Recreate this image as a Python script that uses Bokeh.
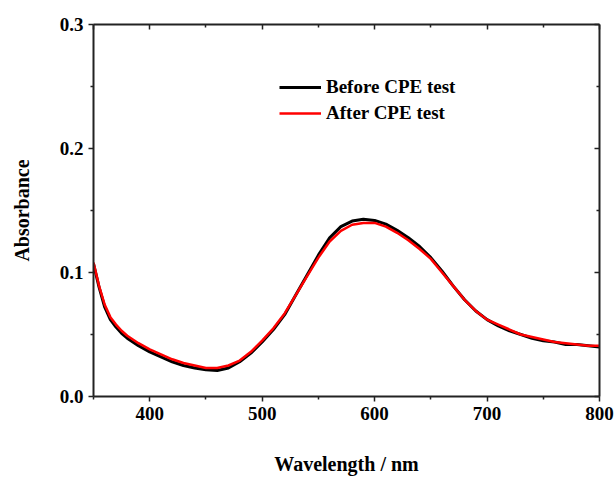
from bokeh.plotting import figure
from bokeh.models import Legend, LegendItem, LinearAxis, FixedTicker, Range1d, NumeralTickFormatter
from bokeh.embed import file_html
from bokeh.resources import INLINE

wavelength = [350, 355, 360, 365, 370, 375, 380, 390, 400, 410, 420, 430, 440, 450, 460,
              470, 480, 490, 500, 510, 520, 530, 540, 550, 560, 570, 580, 590, 600, 610,
              620, 630, 640, 650, 660, 670, 680, 690, 700, 710, 720, 730, 740, 750, 760,
              770, 780, 790, 800]
before_cpe = [0.107, 0.088, 0.072, 0.062, 0.056, 0.051, 0.047, 0.041, 0.036, 0.032, 0.028,
              0.025, 0.023, 0.0215, 0.021, 0.023, 0.028, 0.035, 0.044, 0.054, 0.066, 0.082,
              0.098, 0.114, 0.128, 0.137, 0.1415, 0.143, 0.142, 0.139, 0.134, 0.128, 0.121,
              0.112, 0.101, 0.089, 0.078, 0.069, 0.062, 0.057, 0.053, 0.050, 0.047, 0.045,
              0.044, 0.042, 0.042, 0.041, 0.040]
after_cpe = [0.108, 0.089, 0.074, 0.064, 0.058, 0.053, 0.049, 0.043, 0.038, 0.034, 0.030,
             0.027, 0.025, 0.023, 0.023, 0.025, 0.029, 0.036, 0.045, 0.055, 0.067, 0.082,
             0.097, 0.112, 0.125, 0.1335, 0.1385, 0.140, 0.140, 0.137, 0.132, 0.126, 0.119,
             0.111, 0.100, 0.089, 0.078, 0.069, 0.062, 0.058, 0.054, 0.050, 0.048, 0.046,
             0.044, 0.043, 0.042, 0.041, 0.041]
x_ticks = [400, 500, 600, 700, 800]
y_ticks = [0.0, 0.1, 0.2, 0.3]
x_minor = [350, 450, 550, 650, 750]
y_minor = [0.05, 0.15, 0.25]
series_names = ["Before CPE test", "After CPE test"]

FONT = "Liberation Serif"

p = figure(width=616, height=477, output_backend="svg", toolbar_location=None,
           x_range=Range1d(350, 800), y_range=Range1d(0, 0.3),
           min_border_left=93, min_border_right=17, min_border_top=24, min_border_bottom=77,
           x_axis_label="Wavelength / nm", y_axis_label="Absorbance")
p.grid.visible = False
p.outline_line_color = None
p.background_fill_color = "white"
p.border_fill_color = "white"

def style_axis(ax, ticks, minor, labels=True, inward=False):
    ax.ticker = FixedTicker(ticks=ticks, minor_ticks=minor)
    ax.axis_line_color = "#222222"
    ax.axis_line_width = 2
    ax.major_tick_line_color = "#222222"
    ax.minor_tick_line_color = "#222222"
    ax.major_tick_line_width = 1.5
    ax.minor_tick_line_width = 1.5
    if inward:
        ax.major_tick_in = 5
        ax.major_tick_out = 0
        ax.minor_tick_in = 3
        ax.minor_tick_out = 0
    else:
        ax.major_tick_in = 0
        ax.major_tick_out = 5
        ax.minor_tick_in = 0
        ax.minor_tick_out = 3
    if labels:
        ax.major_label_text_font = FONT
        ax.major_label_text_font_style = "bold"
        ax.major_label_text_font_size = "19px"
        ax.major_label_text_color = "black"
        ax.axis_label_text_font = FONT
        ax.axis_label_text_font_style = "bold"
        ax.axis_label_text_font_size = "20px"
        ax.axis_label_text_color = "black"
    else:
        ax.major_label_text_font_size = "0px"
        ax.major_label_text_color = None

style_axis(p.xaxis[0], x_ticks, x_minor)
style_axis(p.yaxis[0], y_ticks, y_minor)
p.yaxis[0].formatter = NumeralTickFormatter(format="0.0")
p.xaxis[0].major_label_standoff = 5
p.xaxis[0].axis_label_standoff = 30
p.yaxis[0].major_label_standoff = 5
p.yaxis[0].axis_label_standoff = 24

top_ax = LinearAxis()
right_ax = LinearAxis()
style_axis(top_ax, [350] + x_ticks, [450, 550, 650, 750], labels=False, inward=True)
style_axis(right_ax, y_ticks, y_minor, labels=False, inward=True)
p.add_layout(top_ax, "above")
p.add_layout(right_ax, "right")

r1 = p.line(wavelength, before_cpe, line_color="black", line_width=3)
r2 = p.line(wavelength, after_cpe, line_color="red", line_width=2.5)

legend = Legend(items=[LegendItem(label=series_names[0], renderers=[r1]),
                       LegendItem(label=series_names[1], renderers=[r2])],
                location=(186, 272))
legend.background_fill_alpha = 0
legend.border_line_color = None
legend.padding = 0
legend.margin = 0
legend.spacing = 4
legend.glyph_width = 42
legend.glyph_height = 20
legend.label_height = 20
legend.label_standoff = 5
legend.label_text_font = FONT
legend.label_text_font_style = "bold"
legend.label_text_font_size = "19px"
legend.label_text_color = "black"
p.add_layout(legend, "center")

open("out.html", "w").write(file_html(p, INLINE))
